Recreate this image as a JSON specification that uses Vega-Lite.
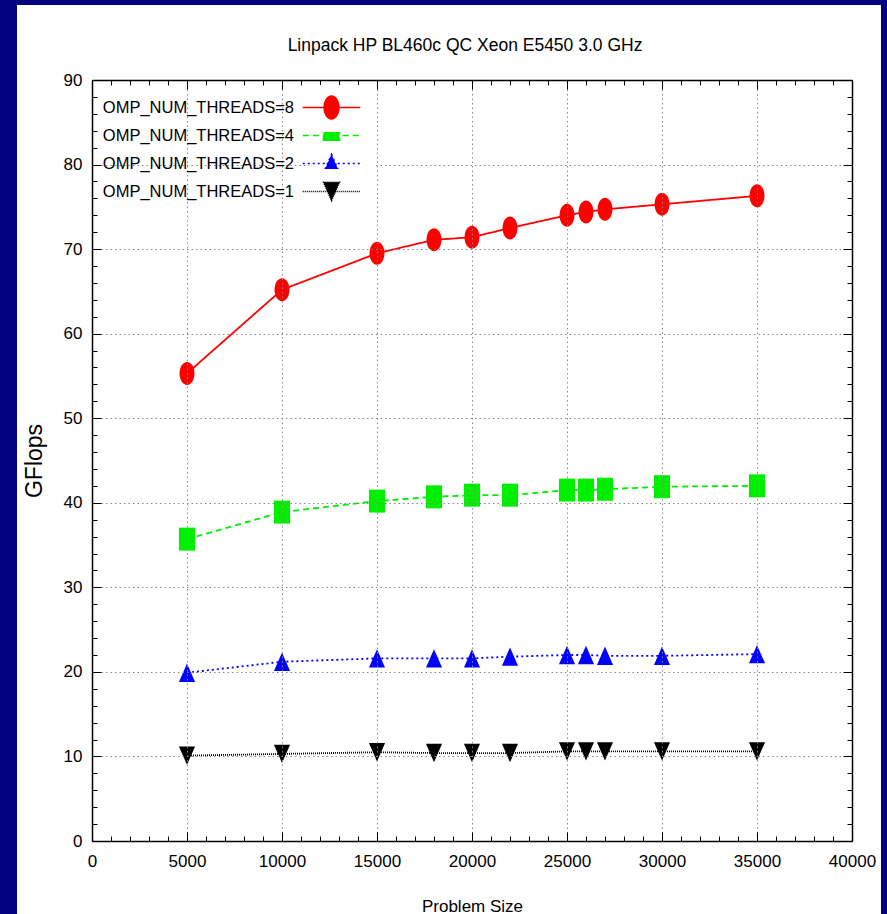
{
  "$schema": "https://vega.github.io/schema/vega-lite/v6.json",
  "width": 760,
  "height": 761,
  "autosize": "none",
  "padding": {"left": 92, "top": 80, "right": 35, "bottom": 73},
  "background": "#000080",
  "title": {"text": "Linpack HP BL460c QC Xeon E5450 3.0 GHz", "fontSize": 17.5, "fontWeight": "normal", "font": "Liberation Sans", "color": "#000", "baseline": "alphabetic", "offset": -63, "dx": -7},
  "config": {"font": "Liberation Sans", "view": {"stroke": null}},
  "data": {"values": [
    {"size": 5000, "threads": 8, "gflops": 55.3},
    {"size": 10000, "threads": 8, "gflops": 65.2},
    {"size": 15000, "threads": 8, "gflops": 69.5},
    {"size": 18000, "threads": 8, "gflops": 71.1},
    {"size": 20000, "threads": 8, "gflops": 71.4},
    {"size": 22000, "threads": 8, "gflops": 72.5},
    {"size": 25000, "threads": 8, "gflops": 74.0},
    {"size": 26000, "threads": 8, "gflops": 74.4},
    {"size": 27000, "threads": 8, "gflops": 74.7},
    {"size": 30000, "threads": 8, "gflops": 75.3},
    {"size": 35000, "threads": 8, "gflops": 76.3},
    {"size": 5000, "threads": 4, "gflops": 35.7},
    {"size": 10000, "threads": 4, "gflops": 38.9},
    {"size": 15000, "threads": 4, "gflops": 40.2},
    {"size": 18000, "threads": 4, "gflops": 40.7},
    {"size": 20000, "threads": 4, "gflops": 40.9},
    {"size": 22000, "threads": 4, "gflops": 40.9},
    {"size": 25000, "threads": 4, "gflops": 41.5},
    {"size": 26000, "threads": 4, "gflops": 41.5},
    {"size": 27000, "threads": 4, "gflops": 41.6},
    {"size": 30000, "threads": 4, "gflops": 41.9},
    {"size": 35000, "threads": 4, "gflops": 42.0},
    {"size": 5000, "threads": 2, "gflops": 19.9},
    {"size": 10000, "threads": 2, "gflops": 21.2},
    {"size": 15000, "threads": 2, "gflops": 21.6},
    {"size": 18000, "threads": 2, "gflops": 21.6},
    {"size": 20000, "threads": 2, "gflops": 21.6},
    {"size": 22000, "threads": 2, "gflops": 21.8},
    {"size": 25000, "threads": 2, "gflops": 22.0},
    {"size": 26000, "threads": 2, "gflops": 22.0},
    {"size": 27000, "threads": 2, "gflops": 21.9},
    {"size": 30000, "threads": 2, "gflops": 21.9},
    {"size": 35000, "threads": 2, "gflops": 22.1},
    {"size": 5000, "threads": 1, "gflops": 10.1},
    {"size": 10000, "threads": 1, "gflops": 10.3},
    {"size": 15000, "threads": 1, "gflops": 10.5},
    {"size": 18000, "threads": 1, "gflops": 10.4},
    {"size": 20000, "threads": 1, "gflops": 10.4},
    {"size": 22000, "threads": 1, "gflops": 10.4},
    {"size": 25000, "threads": 1, "gflops": 10.6},
    {"size": 26000, "threads": 1, "gflops": 10.6},
    {"size": 27000, "threads": 1, "gflops": 10.6},
    {"size": 30000, "threads": 1, "gflops": 10.6},
    {"size": 35000, "threads": 1, "gflops": 10.6}
  ]},
  "resolve": {"axis": {"x": "independent", "y": "independent"}},
  "layer": [
    {
      "data": {"values": [{}]},
      "mark": {"type": "rect", "color": "white"},
      "encoding": {
        "x": {"datum": -3947, "type": "quantitative", "scale": {"domain": [0, 40000], "nice": false, "zero": false}, "axis": null},
        "x2": {"datum": 41526},
        "y": {"datum": 98.86, "type": "quantitative", "scale": {"domain": [0, 90], "nice": false, "zero": false}, "axis": null},
        "y2": {"datum": -12}
      }
    },
    {
      "mark": {"type": "line", "strokeWidth": 1.8},
      "encoding": {
        "x": {"field": "size", "type": "quantitative", "scale": {"domain": [0, 40000], "nice": false, "zero": false},
          "axis": {"orient": "bottom", "values": [0,1000,2000,3000,4000,5000,6000,7000,8000,9000,10000,11000,12000,13000,14000,15000,16000,17000,18000,19000,20000,21000,22000,23000,24000,25000,26000,27000,28000,29000,30000,31000,32000,33000,34000,35000,36000,37000,38000,39000,40000],
            "format": "d", "labelExpr": "datum.value % 5000 === 0 ? datum.label : ''",
            "labelOverlap": false, "labelFlush": false, "labelBound": false,
            "labelFontSize": 17, "labelColor": "#000", "labelPadding": 21,
            "grid": true, "gridColor": "#888", "gridDash": [1.5, 3], "gridWidth": 1,
            "gridOpacity": {"condition": {"test": "datum.value % 5000 === 0 && datum.value > 0 && datum.value < 40000", "value": 1}, "value": 0},
            "tickSize": {"condition": {"test": "datum.value % 5000 === 0", "value": -9}, "value": -5},
            "tickColor": "#000", "tickWidth": 1,
            "domainColor": "#000", "domainWidth": 1.5,
            "title": "Problem Size", "titleFontSize": 17, "titleFontWeight": "normal", "titleColor": "#000", "titlePadding": 25,
            "zindex": 1}},
        "y": {"field": "gflops", "type": "quantitative", "scale": {"domain": [0, 90], "nice": false, "zero": false},
          "axis": {"orient": "left", "values": [0,2,4,6,8,10,12,14,16,18,20,22,24,26,28,30,32,34,36,38,40,42,44,46,48,50,52,54,56,58,60,62,64,66,68,70,72,74,76,78,80,82,84,86,88,90],
            "labelExpr": "datum.value % 10 === 0 ? datum.label : ''",
            "labelOverlap": false, "labelFlush": false, "labelBound": false,
            "labelFontSize": 17, "labelColor": "#000", "labelPadding": 19,
            "grid": true, "gridColor": "#888", "gridDash": [1.5, 3], "gridWidth": 1,
            "gridOpacity": {"condition": {"test": "datum.value % 10 === 0 && datum.value > 0 && datum.value < 90", "value": 1}, "value": 0},
            "tickSize": {"condition": {"test": "datum.value % 10 === 0", "value": -9}, "value": -5},
            "tickColor": "#000", "tickWidth": 1,
            "domainColor": "#000", "domainWidth": 1.5,
            "title": "GFlops", "titleFontSize": 23, "titleFontWeight": "normal", "titleColor": "#000", "titlePadding": 17,
            "zindex": 1}},
        "stroke": {"field": "threads", "type": "nominal", "scale": {"domain": [1, 2, 4, 8], "range": ["#000000", "#0000ff", "#00ee00", "#ff0000"]},
          "legend": {"values": [4], "orient": "none", "legendX": 217, "legendY": 33, "title": null, "padding": 10, "fillColor": "white", "zindex": 2,
            "labelExpr": "'OMP_NUM_THREADS=' + datum.label", "labelFont": "Liberation Sans", "labelFontSize": 16.5, "labelColor": "#000", "labelAlign": "right", "labelOffset": -50, "labelLimit": 400,
            "symbolSize": 529, "symbolStrokeWidth": 1.5, "symbolOpacity": 1,
            "symbolType": "M-2.5,0H2.5M-0.7,-1H0.7V1H-0.7Z", "symbolFillColor": "#00ee00", "symbolStrokeColor": "#00ee00", "symbolDash": [6, 4]}},
        "strokeDash": {"field": "threads", "type": "nominal", "scale": {"domain": [2, 1, 4, 8], "range": [[2, 3], [1, 1], [6, 4], [1, 0]]},
          "legend": {"values": [2], "orient": "none", "legendX": 217, "legendY": 61, "title": null, "padding": 10, "fillColor": "white", "zindex": 2,
            "labelExpr": "'OMP_NUM_THREADS=' + datum.label", "labelFont": "Liberation Sans", "labelFontSize": 16.5, "labelColor": "#000", "labelAlign": "right", "labelOffset": -50, "labelLimit": 400,
            "symbolSize": 529, "symbolStrokeWidth": 1.5, "symbolOpacity": 1,
            "symbolType": "M-2.5,0H2.5M0,-0.8L0.7,0.8H-0.7Z", "symbolFillColor": "#0000ff", "symbolStrokeColor": "#0000ff"}}
      }
    },
    {
      "mark": {"type": "point", "filled": true, "opacity": 1},
      "encoding": {
        "x": {"field": "size", "type": "quantitative", "scale": {"domain": [0, 40000], "nice": false, "zero": false},
          "axis": {"orient": "top", "values": [0,1000,2000,3000,4000,5000,6000,7000,8000,9000,10000,11000,12000,13000,14000,15000,16000,17000,18000,19000,20000,21000,22000,23000,24000,25000,26000,27000,28000,29000,30000,31000,32000,33000,34000,35000,36000,37000,38000,39000,40000],
            "labels": false, "grid": false, "title": null,
            "tickSize": {"condition": {"test": "datum.value % 5000 === 0", "value": -9}, "value": -5},
            "tickColor": "#000", "tickWidth": 1, "domainColor": "#000", "domainWidth": 1.5, "zindex": 1}},
        "y": {"field": "gflops", "type": "quantitative", "scale": {"domain": [0, 90], "nice": false, "zero": false},
          "axis": {"orient": "right", "values": [0,2,4,6,8,10,12,14,16,18,20,22,24,26,28,30,32,34,36,38,40,42,44,46,48,50,52,54,56,58,60,62,64,66,68,70,72,74,76,78,80,82,84,86,88,90],
            "labels": false, "grid": false, "title": null,
            "tickSize": {"condition": {"test": "datum.value % 10 === 0", "value": -9}, "value": -5},
            "tickColor": "#000", "tickWidth": 1, "domainColor": "#000", "domainWidth": 1.5, "zindex": 1}},
        "color": {"field": "threads", "type": "nominal", "scale": {"domain": [8, 4, 2, 1], "range": ["#ff0000", "#00ee00", "#0000ff", "#000000"]},
          "legend": {"values": [8], "orient": "none", "legendX": 217, "legendY": 5, "title": null, "padding": 10, "fillColor": "white", "zindex": 2,
            "labelExpr": "'OMP_NUM_THREADS=' + datum.label", "labelFont": "Liberation Sans", "labelFontSize": 16.5, "labelColor": "#000", "labelAlign": "right", "labelOffset": -50, "labelLimit": 400,
            "symbolSize": 529, "symbolStrokeWidth": 1.5, "symbolOpacity": 1,
            "symbolType": "M-2.5,0H2.5M0,-1A0.65,1 0 1,1 0,1A0.65,1 0 1,1 0,-1Z", "symbolFillColor": "#ff0000", "symbolStrokeColor": "#ff0000"}},
        "size": {"field": "threads", "type": "nominal", "scale": {"domain": [1, 8, 4, 2], "range": [529, 529, 529, 529]},
          "legend": {"values": [1], "orient": "none", "legendX": 217, "legendY": 89, "title": null, "padding": 10, "fillColor": "white", "zindex": 2,
            "labelExpr": "'OMP_NUM_THREADS=' + datum.label", "labelFont": "Liberation Sans", "labelFontSize": 16.5, "labelColor": "#000", "labelAlign": "right", "labelOffset": -50, "labelLimit": 400,
            "symbolSize": 529, "symbolStrokeWidth": 1.5, "symbolOpacity": 1,
            "symbolType": "M-2.5,0H2.5M0,0.8L0.7,-0.8H-0.7Z", "symbolFillColor": "#000000", "symbolStrokeColor": "#000000", "symbolDash": [1, 1]}},
        "shape": {"field": "threads", "type": "nominal", "scale": {"domain": [4, 2, 1, 8], "range": ["M-0.7,-1H0.7V1H-0.7Z", "M0,-0.8L0.7,0.8H-0.7Z", "M0,0.8L0.7,-0.8H-0.7Z", "M0,-1A0.65,1 0 1,1 0,1A0.65,1 0 1,1 0,-1Z"]}, "legend": null}
      }
    }
  ]
}
